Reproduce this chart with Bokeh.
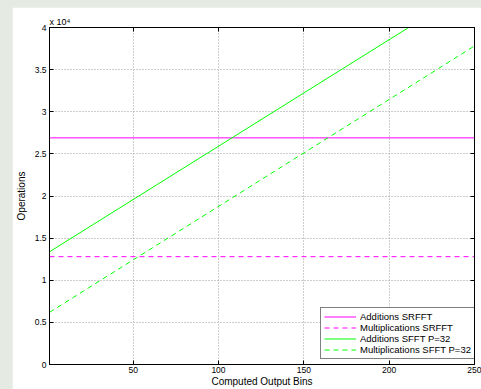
from bokeh.plotting import figure
from bokeh.models import Range1d, LinearAxis, FixedTicker, Legend, LegendItem
from bokeh.embed import file_html
from bokeh.resources import INLINE

# Data
bins = [1, 250]
add_srfft = [26900, 26900]
mul_srfft = [12800, 12800]
add_sfft = [13380, 44880]
mul_sfft = [6190, 37810]

x_ticks = [50, 100, 150, 200, 250]
y_ticks = [0, 5000, 10000, 15000, 20000, 25000, 30000, 35000, 40000]
y_tick_labels = ["0", "0.5", "1", "1.5", "2", "2.5", "3", "3.5", "4"]

FONT = "Liberation Sans"

p = figure(width=469, height=382, output_backend="svg", toolbar_location=None,
           x_range=Range1d(1, 250), y_range=Range1d(0, 40000),
           min_border_left=34, min_border_right=7, min_border_top=20, min_border_bottom=24)
p.margin = (7, 0, 0, 12)
p.border_fill_color = "white"
p.background_fill_color = "white"
p.outline_line_color = "black"
p.outline_line_width = 1

p.title.text = "x 10\u2074"
p.title.align = "left"
p.title.offset = 0
p.title.standoff = 2
p.title.text_font = FONT
p.title.text_font_size = "9px"
p.title.text_font_style = "normal"
p.title.text_color = "black"

r1 = p.line(bins, add_srfft, line_color="#ff00ff", line_width=1)
r2 = p.line(bins, mul_srfft, line_color="#ff00ff", line_width=1, line_dash="5 4")
r3 = p.line(bins, add_sfft, line_color="#00ff00", line_width=1)
r4 = p.line(bins, mul_sfft, line_color="#00ff00", line_width=1, line_dash="5 4")

for ax in (p.xaxis[0], p.yaxis[0]):
    ax.axis_line_color = "black"
    ax.major_tick_line_color = "black"
    ax.major_tick_in = 4
    ax.major_tick_out = 0
    ax.minor_tick_line_color = None
    ax.major_label_text_font = FONT
    ax.major_label_text_font_size = "8.5px"
    ax.major_label_text_color = "black"
    ax.axis_label_text_font = FONT
    ax.axis_label_text_font_size = "10px"
    ax.axis_label_text_font_style = "normal"
    ax.axis_label_text_color = "black"

p.xaxis[0].ticker = FixedTicker(ticks=x_ticks)
p.yaxis[0].ticker = FixedTicker(ticks=y_ticks)
p.yaxis[0].major_label_overrides = {t: l for t, l in zip(y_ticks, y_tick_labels)}
p.xaxis[0].axis_label = "Computed Output Bins"
p.yaxis[0].axis_label = "Operations"
p.xaxis[0].major_label_standoff = 2
p.xaxis[0].axis_label_standoff = 0
p.yaxis[0].major_label_standoff = 3
p.yaxis[0].axis_label_standoff = 5

top = LinearAxis(ticker=FixedTicker(ticks=x_ticks))
right = LinearAxis(ticker=FixedTicker(ticks=y_ticks))
for ax in (top, right):
    ax.major_tick_in = 4
    ax.major_tick_out = 0
    ax.minor_tick_line_color = None
    ax.axis_line_color = "black"
    ax.major_label_text_color = None
    ax.major_label_text_font_size = "1px"
    ax.major_label_standoff = 0
p.add_layout(top, "above")
p.add_layout(right, "right")

p.xgrid.ticker = FixedTicker(ticks=x_ticks)
p.ygrid.ticker = FixedTicker(ticks=y_ticks)
for g in (p.xgrid[0], p.ygrid[0]):
    g.grid_line_color = "#9a9a9a"
    g.grid_line_dash = "1 2"
    g.grid_line_width = 1

legend = Legend(items=[
    LegendItem(label="Additions SRFFT", renderers=[r1]),
    LegendItem(label="Multiplications SRFFT", renderers=[r2]),
    LegendItem(label="Additions SFFT P=32", renderers=[r3]),
    LegendItem(label="Multiplications SFFT P=32", renderers=[r4]),
], location=(271, 5))
legend.label_text_font = FONT
legend.label_text_font_size = "9.5px"
legend.label_text_color = "black"
legend.border_line_color = "black"
legend.border_line_width = 1
legend.background_fill_color = "white"
legend.background_fill_alpha = 1
legend.padding = 3
legend.spacing = 0
legend.margin = 0
legend.glyph_width = 32
legend.glyph_height = 11
legend.label_height = 11
legend.label_standoff = 4
p.add_layout(legend, "center")

html = file_html(p, INLINE)
html = html.replace("</head>", "<style>html, body { background-color: #e5ebe3; }</style></head>", 1)
open("out.html", "w").write(html)
